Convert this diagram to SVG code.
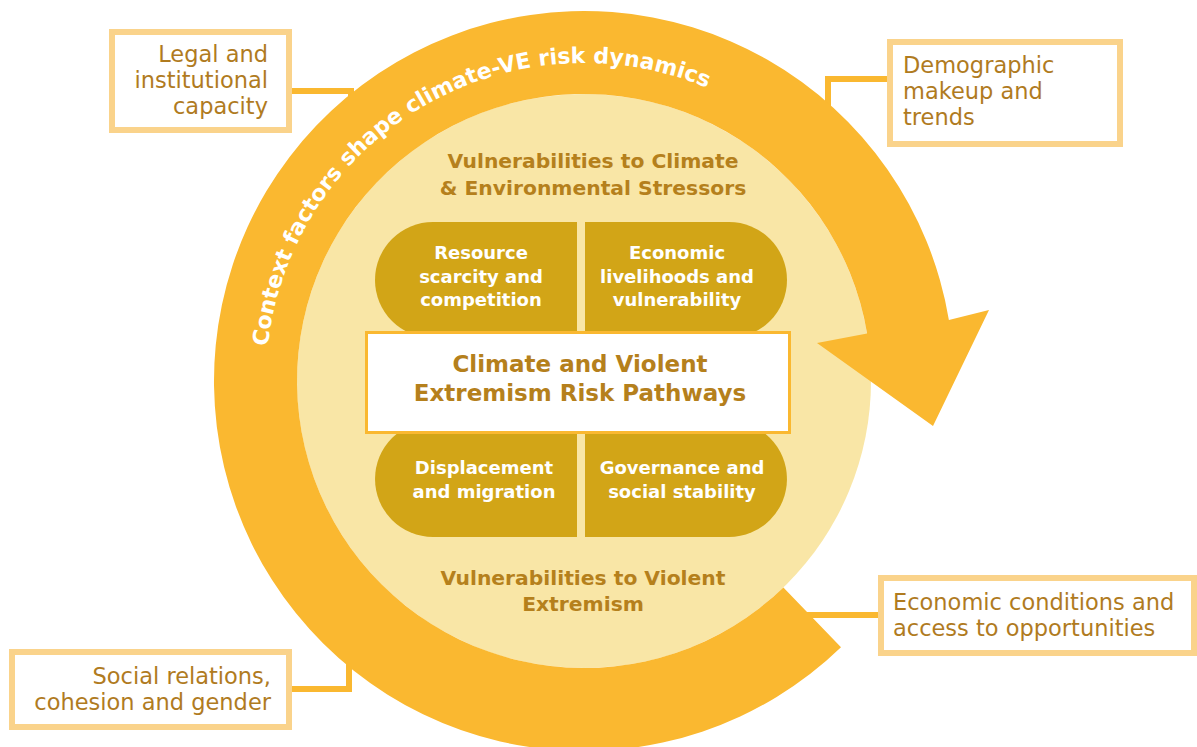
<svg xmlns="http://www.w3.org/2000/svg" width="1197" height="747" viewBox="0 0 1197 747">
  <defs>
    <style>
      .factor-box { fill: #ffffff; stroke: #FAD38B; stroke-width: 6; }
      .factor-text { font-family: "DejaVu Sans", "Open Sans", sans-serif; font-size: 22.5px; fill: #B07B1F; }
      .link { fill: none; stroke: #FAB830; stroke-width: 6; }
      .band-title { font-family: "DejaVu Sans", "Open Sans", sans-serif; font-size: 20.3px; font-weight: 700; fill: #B5801C; text-anchor: middle; }
      .pill { fill: #D2A517; }
      .pill-text { font-family: "DejaVu Sans", "Open Sans", sans-serif; font-size: 18px; font-weight: 700; fill: #ffffff; text-anchor: middle; }
      .core-box { fill: #ffffff; stroke: #FAB830; stroke-width: 3; }
      .core-text { font-family: "DejaVu Sans", "Open Sans", sans-serif; font-size: 23px; font-weight: 700; fill: #B5801C; text-anchor: middle; }
      .ring-text { font-family: "DejaVu Sans", "Open Sans", sans-serif; font-size: 22px; font-weight: 700; fill: #ffffff; }
    </style>
    <!-- baseline for the lettering that follows the ring, r = 318 about (584,381) -->
    <path id="ringTextPath" d="M286.1,492.4 A318,318 0 0 1 825.8,174.5"/>
  </defs>

  <rect width="1197" height="747" fill="#ffffff"/>

  <!-- connectors from the context-factor boxes into the ring -->
  <g id="connectors">
    <path class="link" d="M292,91 H351 V112"/>
    <path class="link" d="M887,79 H828 V110"/>
    <path class="link" d="M800,615 H878"/>
    <path class="link" d="M292,689 H349 V660"/>
  </g>

  <!-- inner field -->
  <g id="inner-field">
    <circle cx="584" cy="381" r="287" fill="#F9E6A6"/>
  </g>

  <!-- circular arrow of context factors -->
  <g id="context-ring">
    <path fill="#FAB830" d="M841.0,647.2 A370,370 0 1 1 948.9,319.9 L989,310 L933,426 L817,343 L867.1,333.6 A287,287 0 1 0 783.4,587.4 Z"/>
    <text class="ring-text"><textPath href="#ringTextPath" startOffset="50%" text-anchor="middle">Context factors shape climate-VE risk dynamics</textPath></text>
  </g>

  <!-- band titles -->
  <g id="climate-title">
    <text class="band-title" x="593" y="168">Vulnerabilities to Climate</text>
    <text class="band-title" x="593" y="195">&amp; Environmental Stressors</text>
  </g>
  <g id="ve-title">
    <text class="band-title" x="583" y="585">Vulnerabilities to Violent</text>
    <text class="band-title" x="583" y="611">Extremism</text>
  </g>

  <!-- four pathway segments -->
  <g id="resource-scarcity">
    <path class="pill" d="M577,222 H433 A58,58 0 0 0 433,338 H577 Z"/>
    <text class="pill-text" x="481" y="259">Resource</text>
    <text class="pill-text" x="481" y="283">scarcity and</text>
    <text class="pill-text" x="481" y="306">competition</text>
  </g>
  <g id="economic-livelihoods">
    <path class="pill" d="M585,222 H729 A58,58 0 0 1 729,338 H585 Z"/>
    <text class="pill-text" x="677" y="259">Economic</text>
    <text class="pill-text" x="677" y="283">livelihoods and</text>
    <text class="pill-text" x="677" y="306">vulnerability</text>
  </g>
  <g id="displacement">
    <path class="pill" d="M577,421 H433 A58,58 0 0 0 433,537 H577 Z"/>
    <text class="pill-text" x="484" y="474">Displacement</text>
    <text class="pill-text" x="484" y="498">and migration</text>
  </g>
  <g id="governance">
    <path class="pill" d="M585,421 H729 A58,58 0 0 1 729,537 H585 Z"/>
    <text class="pill-text" x="682" y="474">Governance and</text>
    <text class="pill-text" x="682" y="498">social stability</text>
  </g>

  <!-- central pathways label -->
  <g id="risk-pathways">
    <rect class="core-box" x="366.5" y="332.5" width="423" height="100"/>
    <text class="core-text" x="580" y="372">Climate and Violent</text>
    <text class="core-text" x="580" y="401">Extremism Risk Pathways</text>
  </g>

  <!-- context-factor boxes -->
  <g id="legal-capacity">
    <rect class="factor-box" x="112" y="32" width="177" height="98"/>
    <text class="factor-text" x="268" y="62" text-anchor="end">Legal and</text>
    <text class="factor-text" x="268" y="88" text-anchor="end">institutional</text>
    <text class="factor-text" x="268" y="114" text-anchor="end">capacity</text>
  </g>
  <g id="demographics">
    <rect class="factor-box" x="890" y="42" width="230" height="102"/>
    <text class="factor-text" x="903" y="73">Demographic</text>
    <text class="factor-text" x="903" y="99">makeup and</text>
    <text class="factor-text" x="903" y="125">trends</text>
  </g>
  <g id="economic-conditions">
    <rect class="factor-box" x="881" y="578" width="313" height="75"/>
    <text class="factor-text" x="893" y="610">Economic conditions and</text>
    <text class="factor-text" x="893" y="636">access to opportunities</text>
  </g>
  <g id="social-relations">
    <rect class="factor-box" x="12" y="652" width="277" height="75"/>
    <text class="factor-text" x="271" y="684" text-anchor="end">Social relations,</text>
    <text class="factor-text" x="271" y="710" text-anchor="end">cohesion and gender</text>
  </g>
</svg>
